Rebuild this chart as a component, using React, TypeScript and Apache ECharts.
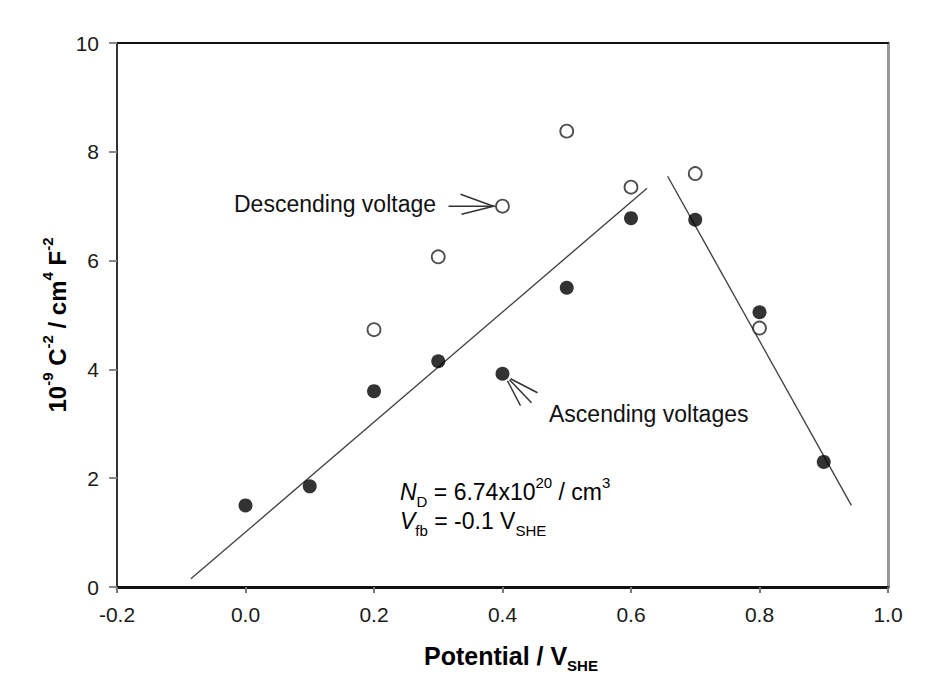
import { useEffect, useRef } from "react";
import * as echarts from "echarts";

// ---- data ----
const potentials = [0.0, 0.1, 0.2, 0.3, 0.4, 0.5, 0.6, 0.7, 0.8, 0.9];
const ascending = [1.5, 1.85, 3.6, 4.15, 3.92, 5.5, 6.78, 6.75, 5.05, 2.3];
const descPotentials = [0.2, 0.3, 0.4, 0.5, 0.6, 0.7, 0.8];
const descending = [4.73, 6.07, 7.0, 8.38, 7.35, 7.6, 4.76];
const fitLeftX = [-0.085, 0.625];
const fitLeftY = [0.15, 7.33];
const fitRightX = [0.657, 0.943];
const fitRightY = [7.55, 1.5];
const xTicks = [-0.2, 0.0, 0.2, 0.4, 0.6, 0.8, 1.0];
const yTicks = [0, 2, 4, 6, 8, 10];
const descAnchor = [0.4, 7.0];
const ascAnchor = [0.4, 3.92];

const FONT = '"Liberation Sans", Arial, Helvetica, sans-serif';

export default function App() {
  const ref = useRef<HTMLDivElement>(null);

  useEffect(() => {
    if (!ref.current) return;
    const chart = echarts.init(ref.current, undefined, { renderer: "svg" });

    const xMin = xTicks[0];
    const xMax = xTicks[xTicks.length - 1];
    const yMin = yTicks[0];
    const yMax = yTicks[yTicks.length - 1];

    const fmtX = (v: number) => (Math.abs(v) < 1e-9 ? "0.0" : v.toFixed(1));

    chart.setOption({
      animation: false,
      backgroundColor: "#ffffff",
      grid: { left: 117, right: 53, top: 43, bottom: 103, containLabel: false },
      xAxis: [
        {
          type: "value",
          min: xMin,
          max: xMax,
          interval: 0.2,
          position: "bottom",
          axisLine: { show: true, onZero: false, lineStyle: { color: "#111", width: 3 } },
          axisTick: { show: true, inside: false, length: 6, lineStyle: { color: "#777", width: 2 } },
          axisLabel: {
            margin: 17,
            fontSize: 21,
            fontFamily: FONT,
            color: "#1a1a1a",
            formatter: fmtX,
          },
          splitLine: { show: false },
        },
        {
          type: "value",
          min: xMin,
          max: xMax,
          interval: 0.2,
          position: "top",
          axisLine: { show: true, onZero: false, lineStyle: { color: "#111", width: 2 } },
          axisTick: { show: false },
          axisLabel: { show: false },
          splitLine: { show: false },
        },
      ],
      yAxis: [
        {
          type: "value",
          min: yMin,
          max: yMax,
          interval: 2,
          position: "left",
          axisLine: { show: true, onZero: false, lineStyle: { color: "#333", width: 2 } },
          axisTick: { show: true, inside: false, length: 8, lineStyle: { color: "#888", width: 2 } },
          axisLabel: { margin: 18, fontSize: 21, fontFamily: FONT, color: "#1a1a1a" },
          splitLine: { show: false },
        },
        {
          type: "value",
          min: yMin,
          max: yMax,
          interval: 2,
          position: "right",
          axisLine: { show: true, onZero: false, lineStyle: { color: "#999", width: 3 } },
          axisTick: { show: false },
          axisLabel: { show: false },
          splitLine: { show: false },
        },
      ],
      series: [
        {
          type: "line",
          data: fitLeftX.map((x, i) => [x, fitLeftY[i]]),
          symbol: "none",
          lineStyle: { color: "#444", width: 1.4 },
          z: 1,
        },
        {
          type: "line",
          data: fitRightX.map((x, i) => [x, fitRightY[i]]),
          symbol: "none",
          lineStyle: { color: "#444", width: 1.4 },
          z: 1,
        },
        {
          type: "scatter",
          data: potentials.map((x, i) => [x, ascending[i]]),
          symbol: "circle",
          symbolSize: 14,
          itemStyle: { color: "#000" },
          z: 3,
        },
        {
          type: "scatter",
          data: descPotentials.map((x, i) => [x, descending[i]]),
          symbol: "circle",
          symbolSize: 13,
          itemStyle: { color: "#fff", borderColor: "#222", borderWidth: 1.8 },
          z: 3,
        },
      ],
    });

    const toPx = (p: number[]) =>
      chart.convertToPixel({ xAxisIndex: 0, yAxisIndex: 0 }, p) as number[];
    const d = toPx(descAnchor);
    const a = toPx(ascAnchor);
    const stroke = { stroke: "#333", lineWidth: 1.5 };

    const baseMain = (size: number, extra: any = {}) => ({
      fontSize: size,
      fontFamily: FONT,
      color: "#111",
      lineHeight: 34,
      verticalAlign: "middle",
      ...extra,
    });
    const sub = (size: number, extra: any = {}) => ({
      fontSize: size,
      fontFamily: FONT,
      color: "#111",
      lineHeight: size,
      verticalAlign: "bottom",
      ...extra,
    });
    const sup = (size: number, extra: any = {}) => ({
      fontSize: size,
      fontFamily: FONT,
      color: "#111",
      lineHeight: size,
      verticalAlign: "top",
      ...extra,
    });

    chart.setOption({
      graphic: [
        // x axis title
        {
          type: "text",
          x: 511,
          y: 656,
          style: {
            text: "{m|Potential / V}{s|SHE}",
            align: "center",
            verticalAlign: "middle",
            rich: {
              m: baseMain(25, { fontWeight: "bold" }),
              s: sub(15, { fontWeight: "bold" }),
            },
          },
        },
        // y axis title
        {
          type: "text",
          x: 57,
          y: 325,
          rotation: Math.PI / 2,
          style: {
            text: "{m|10}{p|-9}{m| C}{p|-2}{m| / cm}{p|4}{m| F}{p|-2}",
            align: "center",
            verticalAlign: "middle",
            rich: {
              m: baseMain(24, { fontWeight: "bold" }),
              p: sup(15, { fontWeight: "bold" }),
            },
          },
        },
        // Descending voltage label
        {
          type: "text",
          x: 234,
          y: 204,
          style: {
            text: "Descending voltage",
            fontSize: 23,
            fontFamily: FONT,
            fill: "#111",
            align: "left",
            verticalAlign: "middle",
          },
        },
        { type: "line", shape: { x1: d[0] - 54, y1: d[1], x2: d[0] - 7, y2: d[1] }, style: stroke },
        { type: "line", shape: { x1: d[0] - 42, y1: d[1] - 12, x2: d[0] - 9, y2: d[1] }, style: stroke },
        { type: "line", shape: { x1: d[0] - 41, y1: d[1] + 8, x2: d[0] - 9, y2: d[1] }, style: stroke },
        // Ascending voltages label
        {
          type: "text",
          x: 549,
          y: 414,
          style: {
            text: "Ascending voltages",
            fontSize: 23,
            fontFamily: FONT,
            fill: "#111",
            align: "left",
            verticalAlign: "middle",
          },
        },
        { type: "line", shape: { x1: a[0] + 8, y1: a[1] + 5, x2: a[0] + 35, y2: a[1] + 19 }, style: stroke },
        { type: "line", shape: { x1: a[0] + 7, y1: a[1] + 6, x2: a[0] + 29, y2: a[1] + 29 }, style: stroke },
        { type: "line", shape: { x1: a[0] + 5, y1: a[1] + 7, x2: a[0] + 18, y2: a[1] + 32 }, style: stroke },
        // N_D text
        {
          type: "text",
          x: 400,
          y: 492,
          style: {
            text: "{i|N}{s|D}{m| = 6.74x10}{p|20}{m| / cm}{p|3}",
            align: "left",
            verticalAlign: "middle",
            rich: {
              i: baseMain(23, { fontStyle: "italic" }),
              m: baseMain(23),
              s: sub(15),
              p: sup(15),
            },
          },
        },
        // V_fb text
        {
          type: "text",
          x: 400,
          y: 521,
          style: {
            text: "{i|V}{s|fb}{m| = -0.1 V}{s|SHE}",
            align: "left",
            verticalAlign: "middle",
            rich: {
              i: baseMain(23, { fontStyle: "italic" }),
              m: baseMain(23),
              s: sub(15),
            },
          },
        },
      ],
    });

    return () => chart.dispose();
  }, []);

  return (
    <div
      ref={ref}
      style={{ position: "absolute", left: 0, top: 0, width: 941, height: 690, background: "#fff" }}
    />
  );
}
